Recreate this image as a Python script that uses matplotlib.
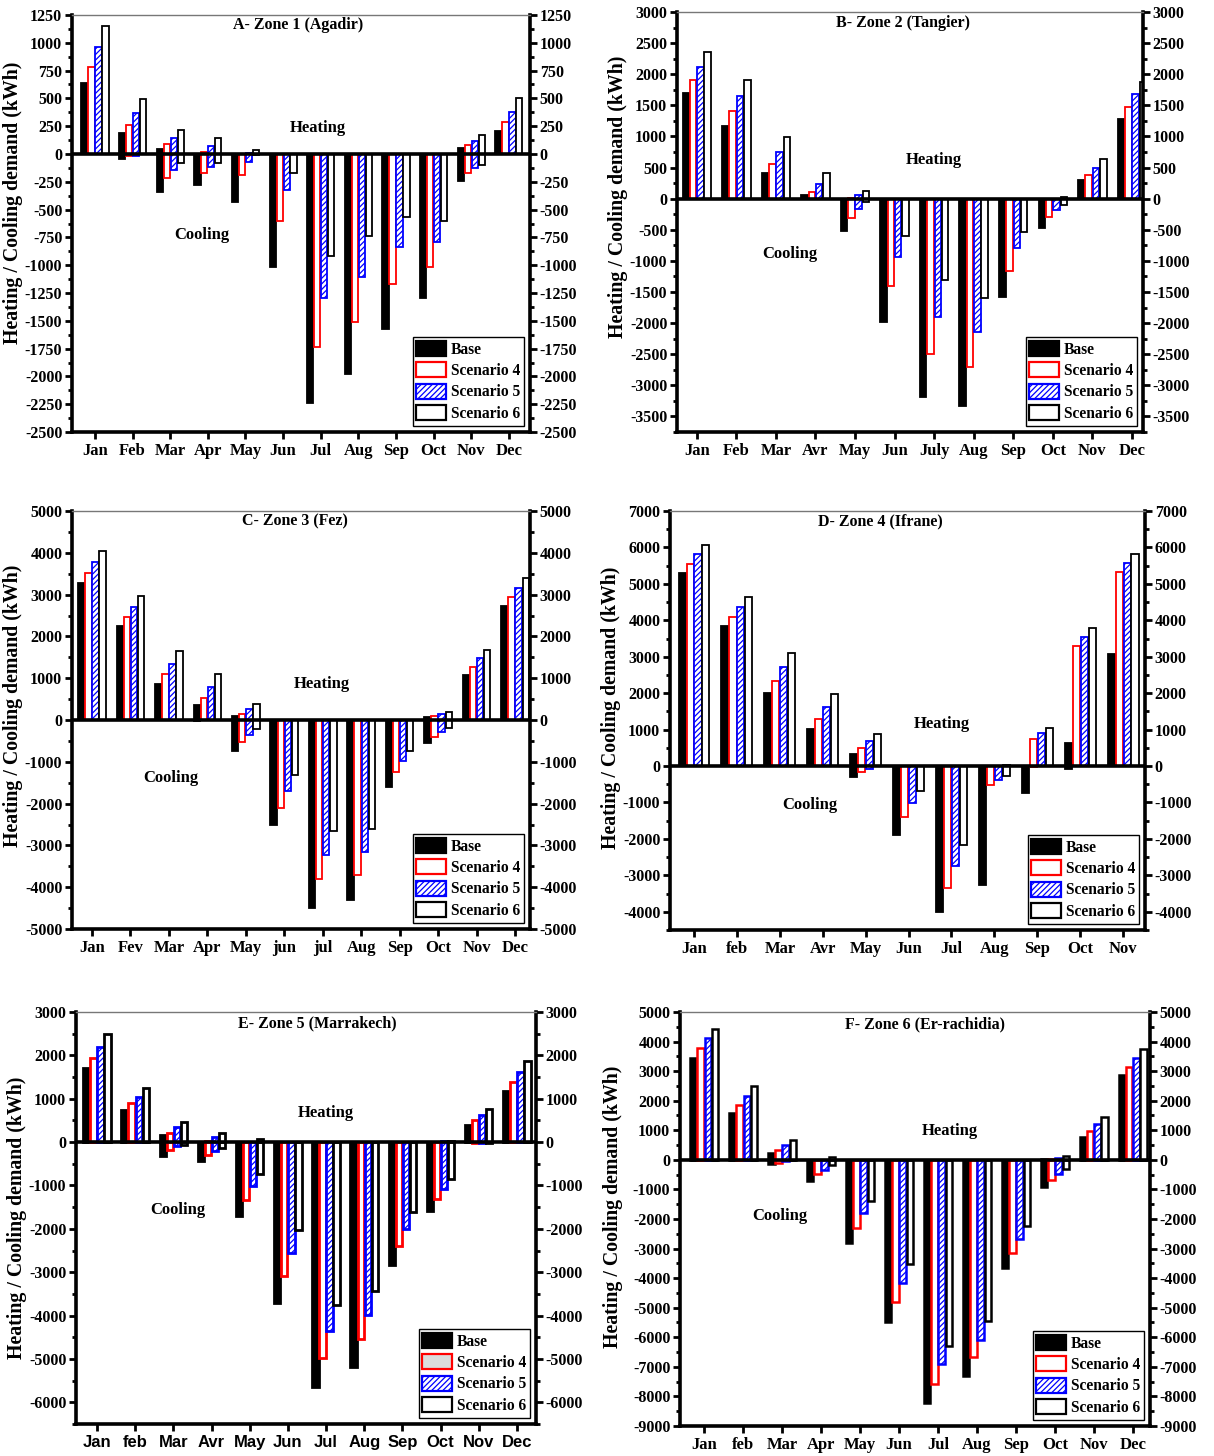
"""
Monthly heating / cooling demand for six climate zones.
Base case against scenarios 4, 5 and 6 (positive = heating, negative = cooling).
"""
import numpy as np
import matplotlib
matplotlib.use("Agg")
import matplotlib.pyplot as plt
from matplotlib.patches import Patch
from matplotlib.ticker import MultipleLocator

plt.rcParams["font.family"] = ["Liberation Serif", "DejaVu Serif"]
plt.rcParams["font.weight"] = "bold"
plt.rcParams["axes.unicode_minus"] = False
plt.rcParams["hatch.linewidth"] = 0.9

SERIES = ["Base", "Scenario 4", "Scenario 5", "Scenario 6"]

# ─── Zone 1 (Agadir) ──────────────────────────────────────────────────────────
AGADIR_MONTHS = ["Jan", "Feb", "Mar", "Apr", "May", "Jun",
                 "Jul", "Aug", "Sep", "Oct", "Nov", "Dec"]
AGADIR_HEAT = [
    [640, 185, 45, 0, 0, 0, 0, 0, 0, 0, 50, 205],
    [785, 260, 90, 20, 0, 0, 0, 0, 0, 0, 80, 285],
    [960, 365, 140, 70, 10, 0, 0, 0, 0, 0, 120, 380],
    [1155, 495, 215, 145, 35, 0, 0, 0, 0, 0, 175, 500],
]
AGADIR_COOL = [
    [0, -45, -340, -275, -430, -1020, -2240, -1980, -1575, -1295, -245, 0],
    [0, -20, -215, -170, -185, -605, -1735, -1510, -1170, -1015, -170, 0],
    [0, -15, -145, -115, -70, -325, -1295, -1105, -835, -790, -125, 0],
    [0, 0, -80, -80, -10, -170, -915, -740, -565, -600, -100, 0],
]

# ─── Zone 2 (Tangier) ─────────────────────────────────────────────────────────
TANGIER_MONTHS = ["Jan", "Feb", "Mar", "Avr", "May", "Jun",
                  "July", "Aug", "Sep", "Oct", "Nov", "Dec"]
TANGIER_HEAT = [
    [1700, 1175, 420, 55, 0, 0, 0, 0, 0, 0, 295, 1285],
    [1905, 1410, 560, 115, 10, 0, 0, 0, 0, 0, 375, 1480],
    [2120, 1650, 755, 235, 55, 0, 0, 0, 0, 0, 490, 1680],
    [2355, 1910, 990, 405, 125, 0, 0, 0, 0, 20, 635, 1880],
]
TANGIER_COOL = [
    [0, 0, 0, 0, -525, -1975, -3185, -3330, -1585, -475, 0, 0],
    [0, 0, 0, 0, -310, -1410, -2500, -2705, -1155, -290, 0, 0],
    [0, 0, 0, 0, -165, -930, -1895, -2145, -800, -175, 0, 0],
    [0, 0, 0, 0, -60, -595, -1305, -1595, -540, -95, 0, 0],
]

# ─── Zone 3 (Fez) ─────────────────────────────────────────────────────────────
FEZ_MONTHS = ["Jan", "Fev", "Mar", "Apr", "May", "jun",
              "jul", "Aug", "Sep", "Oct", "Nov", "Dec"]
FEZ_HEAT = [
    [3285, 2250, 860, 360, 95, 0, 0, 0, 0, 65, 1085, 2725],
    [3515, 2470, 1095, 535, 150, 0, 0, 0, 0, 95, 1260, 2945],
    [3780, 2710, 1345, 780, 255, 0, 0, 0, 0, 145, 1475, 3160],
    [4035, 2965, 1645, 1095, 375, 0, 0, 0, 0, 200, 1680, 3400],
]
FEZ_COOL = [
    [0, 0, 0, -30, -740, -2510, -4500, -4305, -1605, -545, 0, 0],
    [0, 0, 0, 0, -535, -2105, -3810, -3710, -1250, -400, 0, 0],
    [0, 0, 0, 0, -350, -1700, -3230, -3165, -975, -285, 0, 0],
    [0, 0, 0, 0, -215, -1315, -2650, -2615, -735, -200, 0, 0],
]

# ─── Zone 4 (Ifrane) ──────────────────────────────────────────────────────────
IFRANE_MONTHS = ["Jan", "feb", "Mar", "Avr", "May", "Jun",
                 "Jul", "Aug", "Sep", "Oct", "Nov"]
IFRANE_HEAT = [
    [5290, 3855, 2005, 1030, 340, 0, 0, 0, 0, 645, 3070],
    [5535, 4100, 2325, 1300, 490, 0, 0, 0, 755, 3300, 5335],
    [5810, 4375, 2705, 1630, 690, 0, 0, 0, 900, 3555, 5580],
    [6080, 4640, 3090, 1980, 890, 0, 0, 40, 1055, 3800, 5815],
]
IFRANE_COOL = [
    [0, 0, 0, 0, -300, -1890, -4015, -3255, -730, -80, 0],
    [0, 0, 0, 0, -150, -1400, -3350, -520, -20, 0, 0],
    [0, 0, 0, 0, -70, -1005, -2755, -385, 0, 0, 0],
    [0, 0, 0, 0, 0, -695, -2170, -265, 0, 0, 0],
]

# ─── Zone 5 (Marrakech) ───────────────────────────────────────────────────────
MARRAKECH_MONTHS = ["Jan", "feb", "Mar", "Avr", "May", "Jun",
                    "Jul", "Aug", "Sep", "Oct", "Nov", "Dec"]
MARRAKECH_HEAT = [
    [1700, 740, 160, 0, 0, 0, 0, 0, 0, 0, 405, 1170],
    [1945, 895, 220, 30, 0, 0, 0, 0, 0, 0, 505, 1380],
    [2195, 1050, 345, 115, 0, 0, 0, 0, 0, 20, 620, 1615],
    [2495, 1255, 475, 205, 70, 0, 0, 0, 0, 20, 765, 1860],
]
MARRAKECH_COOL = [
    [0, 0, -310, -425, -1710, -3720, -5640, -5185, -2835, -1585, 0, 0],
    [0, 0, -175, -290, -1325, -3080, -4970, -4550, -2395, -1315, -30, 0],
    [0, 0, -85, -200, -1005, -2550, -4355, -3980, -2005, -1085, -20, 0],
    [0, 0, -70, -130, -730, -2030, -3750, -3435, -1620, -855, -10, 0],
]

# ─── Zone 6 (Er-rachidia) ─────────────────────────────────────────────────────
ERRACHIDIA_MONTHS = ["Jan", "feb", "Mar", "Apr", "May", "Jun",
                     "Jul", "Aug", "Sep", "Oct", "Nov", "Dec"]
ERRACHIDIA_HEAT = [
    [3455, 1600, 225, 0, 0, 0, 0, 0, 0, 30, 785, 2870],
    [3780, 1850, 325, 0, 0, 0, 0, 0, 0, 40, 965, 3150],
    [4120, 2155, 495, 0, 0, 0, 0, 0, 0, 60, 1210, 3455],
    [4425, 2495, 675, 90, 0, 0, 0, 0, 0, 120, 1435, 3735],
]
ERRACHIDIA_COOL = [
    [0, 0, -135, -700, -2825, -5485, -8210, -7315, -3650, -920, 0, 0],
    [0, 0, -100, -475, -2305, -4795, -7565, -6680, -3145, -695, 0, 0],
    [0, 0, -50, -340, -1810, -4175, -6890, -6080, -2670, -495, 0, 0],
    [0, 0, 0, -170, -1380, -3535, -6285, -5465, -2245, -325, 0, 0],
]

# estilo de cada série: (face, edge, hatch)
STYLES = [
    ("black", "black", None),
    ("white", "red", None),
    ("white", "blue", "//////"),
    ("white", "black", None),
]

W, H = 1214, 1456


def _rect(left, top, right, bottom):
    return [left / W, 1 - bottom / H, (right - left) / W, (bottom - top) / H]


def draw_zone(fig, rect, title, months, heat, cool, ylim, major, minor, xlim,
              title_xy, heat_xy, cool_xy, ylabel_y=0.54, edge_lw=1.3,
              tick_family=None, legend_fill4="white"):
    ax = fig.add_axes(rect)
    x = np.arange(1, len(months) + 1)
    step, width = 0.185, 0.165
    for i, (face, edge, hatch) in enumerate(STYLES):
        off = (i - 1.5) * step
        for vals in (heat[i], cool[i]):
            ax.bar(x + off, vals, width=width, color=face, edgecolor=edge,
                   hatch=hatch, linewidth=edge_lw, zorder=2)

    ax.axhline(0, color="black", lw=2.6, zorder=3)
    ax.set_xlim(*xlim)
    ax.set_ylim(*ylim)
    ax.set_xticks(x)
    ax.set_xticklabels(months, fontsize=12, fontweight="bold",
                       family=tick_family)
    ax.yaxis.set_major_locator(MultipleLocator(major))
    ax.yaxis.set_minor_locator(MultipleLocator(minor))
    ax.yaxis.set_ticks_position("both")
    ax.tick_params(axis="y", which="both", direction="out", labelright=True,
                   labelsize=11.5, width=2, pad=2)
    ax.tick_params(axis="y", which="major", length=5)
    ax.tick_params(axis="y", which="minor", length=3)
    ax.tick_params(axis="x", direction="out", length=5, width=2, pad=3)
    for lab in ax.get_yticklabels():
        lab.set_fontweight("bold")

    for side in ("left", "right", "bottom"):
        ax.spines[side].set_linewidth(2.6)
    ax.spines["top"].set_linewidth(1.0)
    ax.spines["top"].set_color("#777777")

    ax.set_ylabel("Heating / Cooling demand (kWh)", fontsize=14.3,
                  fontweight="bold")
    fig.canvas.draw()
    tick_left = min(t.get_window_extent().x0 for t in ax.get_yticklabels()
                    if t.get_text())
    x_ax = ax.transAxes.inverted().transform((tick_left - 2, 0))[0]
    ax.yaxis.set_label_coords(x_ax, ylabel_y)
    ax.yaxis.label.set_va("bottom")

    ax.text(*title_xy, title, transform=ax.transAxes, ha="center", va="center",
            fontsize=11.5, fontweight="bold")
    ax.text(*heat_xy, "Heating", transform=ax.transAxes, ha="center",
            va="center", fontsize=12, fontweight="bold")
    ax.text(*cool_xy, "Cooling", transform=ax.transAxes, ha="center",
            va="center", fontsize=12, fontweight="bold")

    handles = []
    for i, (face, edge, hatch) in enumerate(STYLES):
        fc = legend_fill4 if i == 1 else face
        handles.append(Patch(facecolor=fc, edgecolor=edge, hatch=hatch,
                             linewidth=1.6))
    leg = ax.legend(handles, SERIES, loc="lower right",
                    prop={"weight": "bold", "size": 11.2},
                    frameon=True, fancybox=False, edgecolor="black",
                    framealpha=1, borderpad=0.25, labelspacing=0.3,
                    handlelength=1.9, handleheight=1.1, handletextpad=0.3,
                    borderaxespad=0.4)
    leg.get_frame().set_linewidth(1.0)
    leg.set_zorder(5)
    return ax


fig = plt.figure(figsize=(W / 100, H / 100), dpi=100)

draw_zone(fig, _rect(72, 15, 530, 432), "A- Zone 1 (Agadir)",
          AGADIR_MONTHS, AGADIR_HEAT, AGADIR_COOL,
          (-2500, 1250), 250, 125, (0.39, 12.56),
          (0.493, 0.976), (0.537, 0.729), (0.284, 0.472), ylabel_y=0.55)

draw_zone(fig, _rect(677, 12, 1143, 432), "B- Zone 2 (Tangier)",
          TANGIER_MONTHS, TANGIER_HEAT, TANGIER_COOL,
          (-3750, 3000), 500, 250, (0.5, 12.28),
          (0.485, 0.974), (0.551, 0.648), (0.242, 0.424), ylabel_y=0.56)

draw_zone(fig, _rect(72, 511, 530, 929), "C- Zone 3 (Fez)",
          FEZ_MONTHS, FEZ_HEAT, FEZ_COOL,
          (-5000, 5000), 1000, 500, (0.48, 12.39),
          (0.487, 0.974), (0.546, 0.586), (0.216, 0.361), ylabel_y=0.535)

draw_zone(fig, _rect(670, 511, 1145, 930), "D- Zone 4 (Ifrane)",
          IFRANE_MONTHS, IFRANE_HEAT, IFRANE_COOL,
          (-4500, 7000), 1000, 500, (0.44, 11.51),
          (0.442, 0.976), (0.573, 0.492), (0.295, 0.298), ylabel_y=0.53)

draw_zone(fig, _rect(76, 1012, 536, 1424), "E- Zone 5 (Marrakech)",
          MARRAKECH_MONTHS, MARRAKECH_HEAT, MARRAKECH_COOL,
          (-6500, 3000), 1000, 500, (0.45, 12.5),
          (0.524, 0.973), (0.543, 0.755), (0.222, 0.519), ylabel_y=0.5,
          edge_lw=2.0, tick_family="Liberation Sans", legend_fill4="#dcdcdc")

draw_zone(fig, _rect(680, 1012, 1150, 1426), "F- Zone 6 (Er-rachidia)",
          ERRACHIDIA_MONTHS, ERRACHIDIA_HEAT, ERRACHIDIA_COOL,
          (-9000, 5000), 1000, 500, (0.38, 12.44),
          (0.521, 0.971), (0.574, 0.713), (0.213, 0.507), ylabel_y=0.53,
          edge_lw=1.8)

fig.savefig("out.png", dpi=100)
plt.close(fig)
